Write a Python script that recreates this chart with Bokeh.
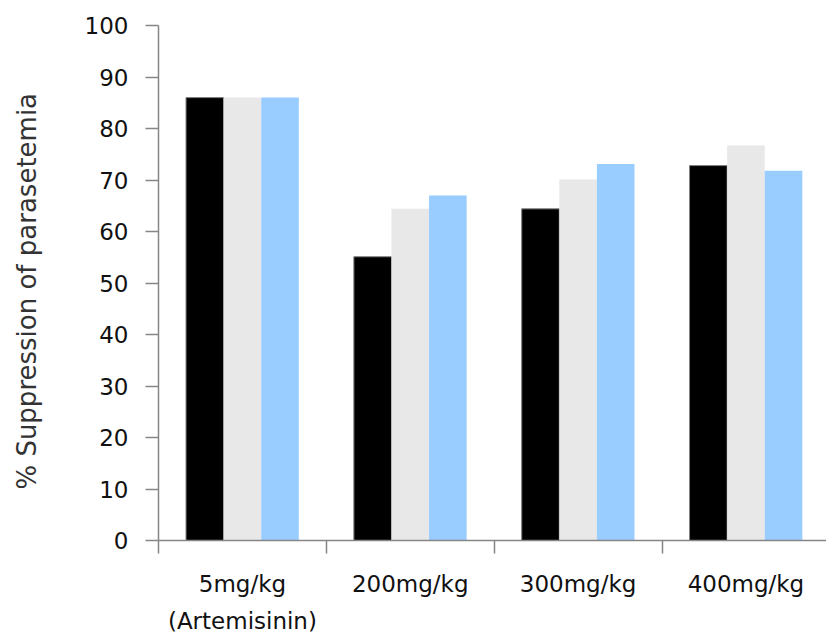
from bokeh.plotting import figure
from bokeh.models import Range1d, FixedTicker
from bokeh.embed import file_html
from bokeh.resources import INLINE

# ---- data ----
categories = ["5mg/kg\n(Artemisinin)", "200mg/kg", "300mg/kg", "400mg/kg"]
series_black = [86.0, 55.1, 64.4, 72.8]
series_gray = [86.0, 64.4, 70.1, 76.7]
series_blue = [86.0, 67.0, 73.1, 71.8]
y_ticks = [0, 10, 20, 30, 40, 50, 60, 70, 80, 90, 100]
y_label = "% Suppression  of  parasetemia"

# ---- layout ----
n = len(categories)
centers = [i + 0.5 for i in range(n)]
bounds = [float(i) for i in range(n + 1)]
bw = 0.224

FONT = "DejaVu Sans"
AXIS_COLOR = "#868686"

p = figure(width=826, height=637, output_backend="svg", toolbar_location=None,
           x_range=Range1d(0, 3.98), y_range=Range1d(0, 100),
           min_border_left=158, min_border_right=0, min_border_top=25,
           min_border_bottom=97)
p.outline_line_color = None
p.xgrid.visible = False
p.ygrid.visible = False
p.background_fill_color = "white"
p.border_fill_color = "white"

series = [(series_black, "#000000", "#7f7f7f", -bw),
          (series_gray, "#E8E8E8", None, 0.0),
          (series_blue, "#99CCFF", None, bw)]
for vals, fill, line, off in series:
    p.vbar(x=[c + off for c in centers], top=vals, bottom=0, width=bw,
           fill_color=fill, line_color=line, line_width=1)

# y axis
ya = p.yaxis[0]
ya.ticker = FixedTicker(ticks=y_ticks, minor_ticks=[])
ya.axis_line_color = AXIS_COLOR
ya.axis_line_width = 1.5
ya.major_tick_line_color = AXIS_COLOR
ya.major_tick_line_width = 1.5
ya.major_tick_out = 13
ya.major_tick_in = 0
ya.minor_tick_line_color = None
ya.major_label_standoff = 17
ya.major_label_text_font = FONT
ya.major_label_text_font_size = "23px"
ya.major_label_text_color = "#111111"
ya.axis_label = y_label
ya.axis_label_text_font = FONT
ya.axis_label_text_font_size = "26px"
ya.axis_label_text_font_style = "normal"
ya.axis_label_text_color = "#333333"
ya.axis_label_standoff = 40

# x axis
xa = p.xaxis[0]
xa.ticker = FixedTicker(ticks=centers, minor_ticks=bounds)
xa.axis_line_color = AXIS_COLOR
xa.axis_line_width = 1.5
xa.major_tick_line_color = None
xa.major_tick_out = 0
xa.major_tick_in = 0
xa.minor_tick_line_color = AXIS_COLOR
xa.minor_tick_line_width = 1.5
xa.minor_tick_out = 13
xa.minor_tick_in = 0
xa.major_label_overrides = {c: lab for c, lab in zip(centers, categories)}
xa.major_label_standoff = 17
xa.major_label_text_font = FONT
xa.major_label_text_font_size = "23px"
xa.major_label_text_line_height = 1.45
xa.major_label_text_color = "#111111"

open("out.html", "w").write(file_html(p, INLINE))
